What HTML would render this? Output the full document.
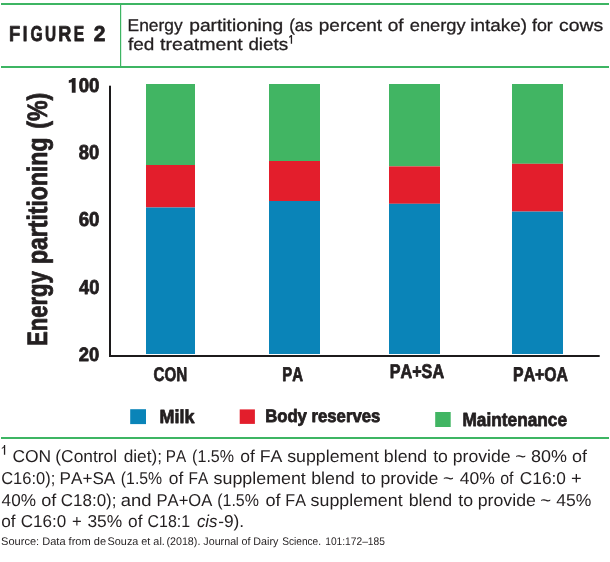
<!DOCTYPE html>
<html><head><meta charset="utf-8">
<style>
html,body{margin:0;padding:0;background:#fff;width:610px;height:562px;overflow:hidden}
svg{display:block;will-change:transform}
text{font-family:"Liberation Sans",sans-serif;fill:#231f20;font-kerning:none;text-rendering:geometricPrecision}
.b{font-weight:bold}
.i{font-style:italic}
.tt{stroke:#231f20;stroke-width:0.3px;vector-effect:non-scaling-stroke}
.hv{stroke:#231f20;stroke-width:0.8px;vector-effect:non-scaling-stroke;stroke-linejoin:round}
</style></head><body>
<svg width="610" height="562" viewBox="0 0 610 562">

<rect x="1" y="3" width="608" height="2" fill="#3db563"/>
<rect x="1" y="66" width="608" height="2" fill="#3db563"/>
<rect x="120" y="4" width="1.2" height="63" fill="#3db563"/>
<rect x="1" y="437" width="608" height="2" fill="#3db563"/>
<text class="b hv" font-size="21.512" transform="matrix(0.8522,0,0,1.0000,9.124,41.250)">F</text>
<text class="b hv" font-size="21.512" transform="matrix(0.7745,0,0,1.0000,22.735,41.250)">I</text>
<text class="b hv" font-size="21.512" transform="matrix(0.7302,0,0,1.0000,30.406,41.250)">G</text>
<text class="b hv" font-size="21.512" transform="matrix(0.7115,0,0,1.0000,45.031,41.250)">U</text>
<text class="b hv" font-size="21.512" transform="matrix(0.8422,0,0,1.0000,58.138,41.250)">R</text>
<text class="b hv" font-size="21.512" transform="matrix(0.7291,0,0,1.0000,73.701,41.250)">E</text>
<text class="b hv" font-size="21.512" transform="matrix(0.9752,0,0,1.0000,93.823,41.250)">2</text>
<text class="tt" font-size="17.151" transform="matrix(1.0151,0,0,1.0000,127.572,30.700)">Energy</text>
<text class="tt" font-size="17.151" transform="matrix(1.1200,0,0,1.0000,189.262,30.700)">partitioning</text>
<text class="tt" font-size="17.151" transform="matrix(0.9890,0,0,1.0000,289.148,30.700)">(as</text>
<text class="tt" font-size="17.151" transform="matrix(1.1076,0,0,1.0000,318.776,30.700)">percent</text>
<text class="tt" font-size="17.151" transform="matrix(1.1096,0,0,1.0000,387.701,30.700)">of</text>
<text class="tt" font-size="17.151" transform="matrix(1.0662,0,0,1.0000,409.723,30.700)">energy</text>
<text class="tt" font-size="17.151" transform="matrix(1.1042,0,0,1.0000,470.333,30.700)">intake)</text>
<text class="tt" font-size="17.151" transform="matrix(1.0417,0,0,1.0000,531.947,30.700)">for</text>
<text class="tt" font-size="17.151" transform="matrix(1.1291,0,0,1.0000,558.977,30.700)">cows</text>
<text class="tt" font-size="17.151" transform="matrix(1.1069,0,0,1.0000,128.031,50.400)">fed</text>
<text class="tt" font-size="17.151" transform="matrix(1.1406,0,0,1.0000,160.104,50.400)">treatment</text>
<text class="tt" font-size="17.151" transform="matrix(1.0949,0,0,1.0000,248.411,50.400)">diets</text>
<path d="M289.2 36.6 L291 35 L292.1 35 L292.1 43.8 L290.8 43.8 L290.8 36.9 L289.2 37.9 Z" fill="#231f20"/>
<rect x="146" y="84" width="49" height="81" fill="#41b563"/>
<rect x="146" y="165" width="49" height="42.5" fill="#e31e2c"/>
<rect x="146" y="207.5" width="49" height="146.5" fill="#0a84b8"/>
<rect x="269" y="84" width="51" height="77" fill="#41b563"/>
<rect x="269" y="161" width="51" height="40" fill="#e31e2c"/>
<rect x="269" y="201" width="51" height="153" fill="#0a84b8"/>
<rect x="389" y="84" width="51" height="82.4" fill="#41b563"/>
<rect x="389" y="166.4" width="51" height="37.400000000000006" fill="#e31e2c"/>
<rect x="389" y="203.8" width="51" height="150.2" fill="#0a84b8"/>
<rect x="512" y="84" width="51" height="79.80000000000001" fill="#41b563"/>
<rect x="512" y="163.8" width="51" height="47.79999999999998" fill="#e31e2c"/>
<rect x="512" y="211.6" width="51" height="142.4" fill="#0a84b8"/>
<rect x="109" y="85.7" width="2" height="271.3" fill="#1c1a1b"/>
<rect x="109" y="355" width="490.7" height="2" fill="#1c1a1b"/>
<path d="M75.6 77.9 L75.6 92.7 L71.8 92.7 L71.8 82.2 L68.8 83 L68.8 80.2 Q71.6 79.6 72.6 77.9 Z" fill="#231f20"/>
<text class="b hv" font-size="19.907" transform="matrix(0.9397,0,0,1.0000,78.710,92.250)">00</text>
<text class="b hv" font-size="20.194" transform="matrix(0.9099,0,0,1.0000,78.767,159.250)">80</text>
<text class="b hv" font-size="20.050" transform="matrix(0.9303,0,0,1.0000,78.667,226.350)">60</text>
<text class="b hv" font-size="20.194" transform="matrix(0.9049,0,0,1.0000,79.073,294.250)">40</text>
<text class="b hv" font-size="19.334" transform="matrix(0.9530,0,0,1.0000,78.711,361.250)">20</text>
<text class="b hv" font-size="28.053" transform="translate(47.449999999999996,344.45) rotate(-90) matrix(0.7865,0,0,1,-1.476,0)">Energy</text>
<text class="b hv" font-size="28.053" transform="translate(47.449999999999996,262.54999999999995) rotate(-90) matrix(0.8204,0,0,1,-1.517,0)">partitioning</text>
<text class="b hv" font-size="28.053" transform="translate(47.449999999999996,127.65) rotate(-90) matrix(0.8278,0,0,1,-1.157,0)">(%)</text>
<text class="b hv" font-size="19.621" transform="matrix(0.7740,0,0,1.0000,153.527,381.250)">CON</text>
<text class="b hv" font-size="19.913" transform="matrix(0.7479,0,0,1.0000,282.354,381.250)">PA</text>
<text class="b hv" font-size="19.764" transform="matrix(0.8172,0,0,1.0000,389.770,378.050)">PA+SA</text>
<text class="b hv" font-size="19.621" transform="matrix(0.8067,0,0,1.0000,513.091,381.250)">PA+OA</text>
<rect x="130.2" y="409.2" width="15.8" height="14.9" fill="#0a84b8"/>
<rect x="239.7" y="409.4" width="15.2" height="14.5" fill="#e31e2c"/>
<rect x="435.2" y="412" width="15.5" height="15" fill="#41b563"/>
<text class="b hv" font-size="18.896" transform="matrix(0.9520,0,0,1.0000,159.447,423.150)">Milk</text>
<text class="b hv" font-size="18.024" transform="matrix(0.9273,0,0,1.0000,265.132,422.150)">Body reserves</text>
<text class="b hv" font-size="18.896" transform="matrix(0.9143,0,0,1.0000,462.494,426.150)">Maintenance</text>
<path d="M1.8 448 L3.9 446.3 L3.9 444.9 L5.2 444.9 L5.2 454.8 L3.9 454.8 L3.9 447.6 L1.8 449.1 Z" fill="#231f20"/>
<text font-size="17.151" transform="matrix(1.0183,0,0,1.0000,12.413,461.600)">CON</text>
<text font-size="17.151" transform="matrix(1.0121,0,0,1.0000,55.324,461.600)">(Control</text>
<text font-size="17.151" transform="matrix(1.0064,0,0,1.0000,123.675,461.600)">diet);</text>
<text font-size="17.151" transform="matrix(0.8909,0,0,1.0000,165.747,461.600)">PA</text>
<text font-size="17.151" transform="matrix(0.9367,0,0,1.0000,192.104,461.600)">(1.5%</text>
<text font-size="17.151" transform="matrix(1.0214,0,0,1.0000,240.164,461.600)">of</text>
<text font-size="17.151" transform="matrix(1.0346,0,0,1.0000,259.644,461.600)">FA supplement blend</text>
<text font-size="17.151" transform="matrix(1.0296,0,0,1.0000,433.133,461.600)">to provide</text>
<text font-size="17.151" transform="matrix(1.0855,0,0,1.0000,515.164,461.600)">~</text>
<text font-size="17.151" transform="matrix(1.0479,0,0,1.0000,531.019,461.600)">80% of</text>
<text font-size="17.151" transform="matrix(0.9622,0,0,1.0000,1.162,483.600)">C16:0);</text>
<text font-size="17.151" transform="matrix(0.9975,0,0,1.0000,59.597,483.600)">PA+SA</text>
<text font-size="17.151" transform="matrix(0.9228,0,0,1.0000,120.819,483.600)">(1.5%</text>
<text font-size="17.151" transform="matrix(1.0140,0,0,1.0000,168.770,483.600)">of</text>
<text font-size="17.151" transform="matrix(0.8986,0,0,1.0000,188.536,483.600)">FA</text>
<text font-size="17.151" transform="matrix(1.0401,0,0,1.0000,213.603,483.600)">supplement</text>
<text font-size="17.151" transform="matrix(1.0389,0,0,1.0000,311.152,483.600)">blend</text>
<text font-size="17.151" transform="matrix(1.0357,0,0,1.0000,361.031,483.600)">to</text>
<text font-size="17.151" transform="matrix(1.0297,0,0,1.0000,380.462,483.600)">provide</text>
<text font-size="17.151" transform="matrix(1.0855,0,0,1.0000,442.964,483.600)">~</text>
<text font-size="17.151" transform="matrix(1.0233,0,0,1.0000,459.797,483.600)">40%</text>
<text font-size="17.151" transform="matrix(0.9332,0,0,1.0000,500.128,483.600)">of</text>
<text font-size="17.151" transform="matrix(1.0084,0,0,1.0000,519.822,483.600)">C16:0</text>
<text font-size="17.151" transform="matrix(1.0681,0,0,1.0000,571.006,483.600)">+</text>
<text font-size="17.151" transform="matrix(1.0023,0,0,1.0000,1.605,505.700)">40%</text>
<text font-size="17.151" transform="matrix(1.0581,0,0,1.0000,41.238,505.700)">of</text>
<text font-size="17.151" transform="matrix(0.9920,0,0,1.0000,60.736,505.700)">C18:0);</text>
<text font-size="17.151" transform="matrix(1.0753,0,0,1.0000,120.817,505.700)">and</text>
<text font-size="17.151" transform="matrix(0.9673,0,0,1.0000,156.539,505.700)">PA+OA</text>
<text font-size="17.151" transform="matrix(0.9321,0,0,1.0000,217.209,505.700)">(1.5%</text>
<text font-size="17.151" transform="matrix(1.0581,0,0,1.0000,265.538,505.700)">of</text>
<text font-size="17.151" transform="matrix(0.9426,0,0,1.0000,285.274,505.700)">FA</text>
<text font-size="17.151" transform="matrix(1.0378,0,0,1.0000,310.605,505.700)">supplement</text>
<text font-size="17.151" transform="matrix(1.0389,0,0,1.0000,408.652,505.700)">blend</text>
<text font-size="17.151" transform="matrix(1.0357,0,0,1.0000,458.231,505.700)">to</text>
<text font-size="17.151" transform="matrix(1.0334,0,0,1.0000,477.758,505.700)">provide</text>
<text font-size="17.151" transform="matrix(1.0855,0,0,1.0000,540.164,505.700)">~</text>
<text font-size="17.151" transform="matrix(1.0233,0,0,1.0000,556.297,505.700)">45%</text>
<text font-size="17.151" transform="matrix(1.0067,0,0,1.0000,1.275,527.100)">of</text>
<text font-size="17.151" transform="matrix(0.9949,0,0,1.0000,20.733,527.100)">C16:0</text>
<text font-size="17.151" transform="matrix(0.9721,0,0,1.0000,71.986,527.100)">+</text>
<text font-size="17.151" transform="matrix(1.0132,0,0,1.0000,87.438,527.100)">35%</text>
<text font-size="17.151" transform="matrix(1.0067,0,0,1.0000,128.075,527.100)">of</text>
<text font-size="17.151" transform="matrix(0.9283,0,0,1.0000,147.591,527.100)">C18:1</text>
<text class="i" font-size="17.151" transform="matrix(0.9826,0,0,1.0000,196.949,527.100)">cis</text>
<text font-size="17.151" transform="matrix(1.0129,0,0,1.0000,218.128,527.100)">-9).</text>
<text font-size="11.047" transform="matrix(1.0010,0,0,1.0000,1.098,544.800)">Source: Data from de</text>
<text font-size="11.047" transform="matrix(0.9819,0,0,1.0000,107.607,544.800)">Souza et al.</text>
<text font-size="11.047" transform="matrix(0.9710,0,0,1.0000,166.435,544.800)">(2018). Journal of Dairy</text>
<text font-size="11.047" transform="matrix(0.9202,0,0,1.0000,282.138,544.800)">Science.</text>
<text font-size="11.047" transform="matrix(0.9256,0,0,1.0000,325.221,544.800)">101:172–185</text>
</svg>
</body></html>
